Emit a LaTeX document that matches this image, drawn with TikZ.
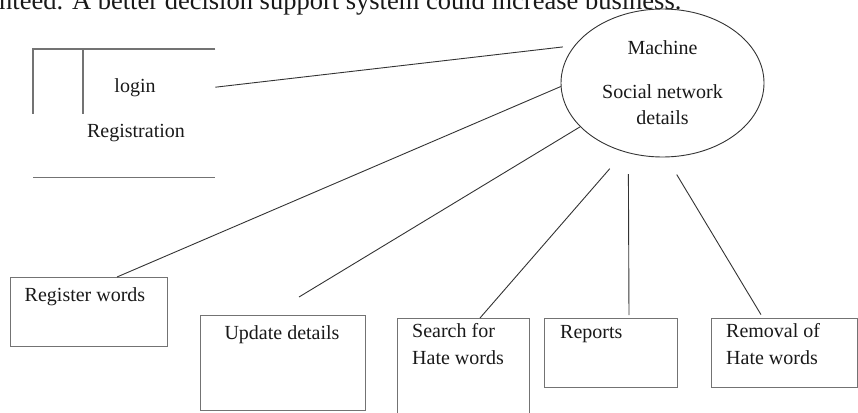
\documentclass[tikz,border=0pt]{standalone}
\usepackage{fontspec}
\setmainfont{Liberation Serif}
\usetikzlibrary{shapes.geometric,calc}
\begin{document}
\begin{tikzpicture}[x=1pt,y=-1pt,
  boxline/.style={draw=black!55, line width=1.4pt, rectangle, inner sep=0pt, anchor=north west},
  storeline/.style={draw=black!55, line width=1.3pt},
  conn/.style={draw=black!80, line width=0.9pt},
  lbl/.style={font=\fontsize{20}{26}\selectfont, inner sep=0pt, text=black!90},
  lbll/.style={lbl, align=left, anchor=north west, font=\fontsize{20}{27}\selectfont}]
\useasboundingbox (0,0) rectangle (858,412);
\clip (0,0) rectangle (858,412);

% running text line cut off at the top
\node[font=\fontsize{26.5}{30}\selectfont, anchor=base west, inner sep=0pt, text=black!90] (toptext) at (-1,10) {nteed. A better decision support system could increase business.};

% data store: login / Registration
\node[minimum width=182pt, minimum height=128pt, inner sep=0pt, anchor=north west] (store) at (33,49) {};
\draw[storeline] (store.north east) -- (store.north west) -- ++(0,65);
\draw[storeline] ([xshift=50pt]store.north west) -- ++(0,65);
\draw[storeline] (store.south west) -- (store.south east);
\node[lbl] (login) at (135,88) {login};
\node[lbl] (regn) at (136,133) {Registration};

% central process
\node[ellipse, draw=black!80, line width=0.9pt, minimum width=203pt, minimum height=148pt,
      inner sep=0pt, align=center, lbl] (mach) at (662.5,83) {Machine\\[18pt]Social network\\details};

% boxes
\node[boxline, minimum width=157pt, minimum height=69pt] (reg) at (10,277) {};
\node[boxline, minimum width=165pt, minimum height=95pt] (upd) at (200,315) {};
\node[boxline, minimum width=132pt, minimum height=100pt] (srch) at (397,318) {};
\node[boxline, minimum width=133pt, minimum height=69pt] (rep) at (544,318) {};
\node[boxline, minimum width=146pt, minimum height=69pt] (rem) at (711,318) {};

\node[lbl] (regt) at (85,297) {Register words};
\node[lbl] (updt) at (282,335) {Update details};
\node[lbll] (srcht) at (412,323) {Search for\\Hate words};
\node[lbll] (rept) at (560,325) {Reports};
\node[lbll] (remt) at (726,323) {Removal of\\Hate words};

% connectors
\coordinate (updend) at (299,297);
\draw[conn, shorten >=11.5pt] ([yshift=26pt]store.east) -- (mach.157);
\draw[conn] (mach.182) -- ([xshift=107pt]reg.north west);
\draw[conn] (mach.208) -- (updend);
\draw[conn, shorten <=22pt] (mach.241.6) -- ([xshift=83pt]srch.north west);
\draw[conn, shorten <=21pt, shorten >=3pt] (mach.244.4) -- ([xshift=85pt]rep.north west);
\draw[conn, shorten <=20pt, shorten >=4pt] (mach.273.1) -- ([xshift=52pt]rem.north west);
\end{tikzpicture}
\end{document}
